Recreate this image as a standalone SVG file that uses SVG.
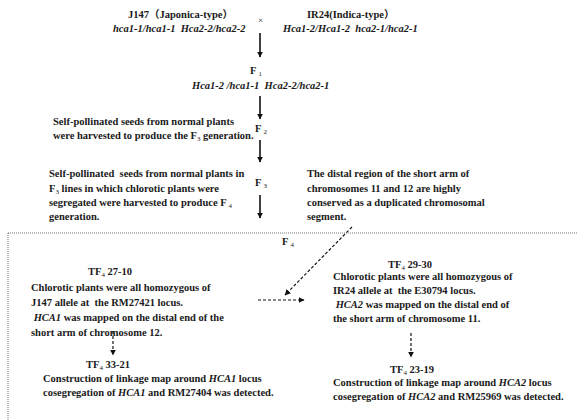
<svg xmlns="http://www.w3.org/2000/svg" width="577" height="420" viewBox="0 0 577 420">
<defs>
<marker id="ah" viewBox="0 0 10 10" refX="9" refY="5" markerWidth="6" markerHeight="6" orient="auto" markerUnits="userSpaceOnUse">
<path d="M0,0 L10,5 L0,10 z" fill="#111"/>
</marker>
<style>
text{font-family:"Liberation Serif","Times New Roman","Noto Sans CJK SC",serif;font-size:10.5px;font-weight:bold;fill:#1a1a1a;white-space:pre}
.i{font-style:italic}
.s{font-size:7px;font-weight:normal}
.solid{stroke:#111;stroke-width:1.6;fill:none}
.dash{stroke:#111;stroke-width:1.2;fill:none;stroke-dasharray:3,2}
.dot{stroke:#555;stroke-width:0.8;fill:none;stroke-dasharray:1,1}
</style>
</defs>
<rect width="577" height="420" fill="#fff"/>
<g id="connectors">
<line class="solid" x1="260" y1="33" x2="260" y2="57" marker-end="url(#ah)"/>
<line class="solid" x1="260" y1="96" x2="260" y2="119" marker-end="url(#ah)"/>
<line class="solid" x1="260" y1="140" x2="260" y2="162" marker-end="url(#ah)"/>
<line class="solid" x1="260" y1="195" x2="260" y2="218" marker-end="url(#ah)"/>
<line class="dash" x1="352" y1="227" x2="285" y2="295" marker-end="url(#ah)"/>
<line class="dash" x1="258" y1="300" x2="304" y2="300" marker-end="url(#ah)"/>
<line class="dash" x1="113" y1="331" x2="113" y2="355" marker-end="url(#ah)"/>
<line class="dash" x1="411" y1="333" x2="411" y2="357" marker-end="url(#ah)"/>
</g>
<g id="border">
<line class="dot" x1="8" y1="233" x2="577" y2="233"/>
<line class="dot" x1="8" y1="233" x2="8" y2="420"/>
</g>
<g id="parent1">
<text x="128" y="18">J147（Japonica-type）</text>
<text x="113" y="32" class="i">hca1-1/hca1-1&#160; Hca2-2/hca2-2</text>
</g>
<g id="cross"><text x="258" y="23" style="font-weight:normal;font-size:9px">×</text></g>
<g id="parent2">
<text x="307" y="18">IR24(Indica-type）</text>
<text x="283" y="32" class="i">Hca1-2/Hca1-2&#160; hca2-1/hca2-1</text>
</g>
<g id="f1">
<text x="250" y="74">F<tspan class="s" dx="2" dy="2">1</tspan></text>
<text x="192" y="89" class="i">Hca1-2 /hca1-1&#160; Hca2-2/hca2-1</text>
</g>
<g id="f2">
<text x="255" y="132">F<tspan class="s" dx="2" dy="2">2</tspan></text>
<text x="53" y="125" textLength="181" lengthAdjust="spacingAndGlyphs">Self-pollinated seeds from normal plants</text>
<text x="53" y="139">were harvested to produce the F<tspan class="s" dy="2">3</tspan><tspan dy="-2"> generation.</tspan></text>
</g>
<g id="f3">
<text x="255" y="186">F<tspan class="s" dx="2" dy="2">3</tspan></text>
<text x="49" y="177">Self-pollinated&#160; seeds from normal plants in</text>
<text x="49" y="192">F<tspan class="s" dy="2">3</tspan><tspan dy="-2"> lines in which chlorotic plants were</tspan></text>
<text x="49" y="206">segregated were harvested to produce F<tspan class="s" dx="2" dy="2">4</tspan></text>
<text x="49" y="220">generation.</text>
</g>
<g id="duplication">
<text x="307" y="177">The distal region of the short arm of</text>
<text x="307" y="192">chromosomes 11 and 12 are highly</text>
<text x="307" y="206">conserved as a duplicated chromosomal</text>
<text x="307" y="220">segment.</text>
</g>
<g id="f4"><text x="282" y="245">F<tspan class="s" dx="2" dy="2">4</tspan></text></g>
<g id="tf4-27-10">
<text x="88" y="275">TF<tspan class="s" dy="2">4</tspan><tspan dy="-2"> 27-10</tspan></text>
<text x="31" y="291">Chlorotic plants were all homozygous of</text>
<text x="31" y="306">J147 allele at&#160; the RM27421 locus.</text>
<text x="31" y="321">&#160;<tspan class="i">HCA1</tspan> was mapped on the distal end of the</text>
<text x="31" y="336">short arm of chromosome 12.</text>
</g>
<g id="tf4-29-30">
<text x="388" y="268">TF<tspan class="s" dy="2">4</tspan><tspan dy="-2"> 29-30</tspan></text>
<text x="333" y="280">Chlorotic plants were all homozygous of</text>
<text x="333" y="294">IR24 allele at&#160; the E30794 locus.</text>
<text x="333" y="308">&#160;<tspan class="i">HCA2</tspan> was mapped on the distal end of</text>
<text x="333" y="322">the short arm of chromosome 11.</text>
</g>
<g id="tf4-33-21">
<text x="86" y="368">TF<tspan class="s" dy="2">4</tspan><tspan dy="-2"> 33-21</tspan></text>
<text x="43" y="382">Construction of linkage map around <tspan class="i">HCA1</tspan> locus</text>
<text x="43" y="396">cosegregation of <tspan class="i">HCA1</tspan> and RM27404 was detected.</text>
</g>
<g id="tf4-23-19">
<text x="390" y="373">TF<tspan class="s" dy="2">4</tspan><tspan dy="-2"> 23-19</tspan></text>
<text x="333" y="386">Construction of linkage map around <tspan class="i">HCA2</tspan> locus</text>
<text x="333" y="400">cosegregation of <tspan class="i">HCA2</tspan> and RM25969 was detected.</text>
</g>
</svg>
